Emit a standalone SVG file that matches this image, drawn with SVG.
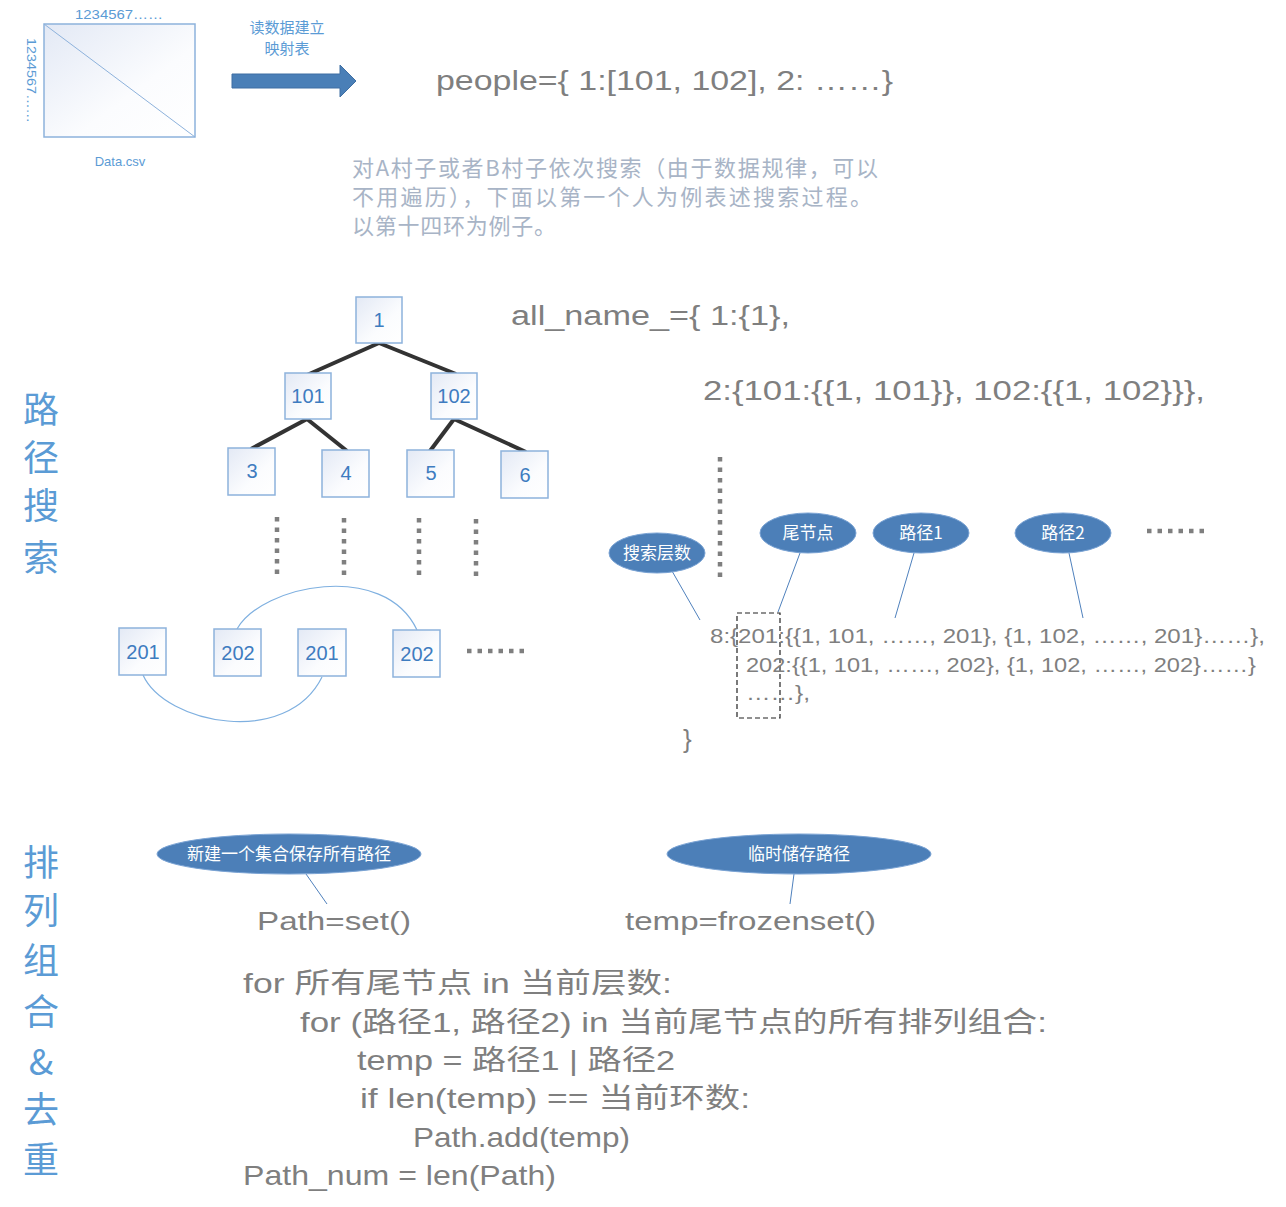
<svg xmlns="http://www.w3.org/2000/svg" width="1286" height="1207" viewBox="0 0 1286 1207">
<defs>
<linearGradient id="bg" x1="0" y1="0" x2="1" y2="1">
<stop offset="0" stop-color="#e3e9f5"/>
<stop offset="0.6" stop-color="#fbfcfe"/>
<stop offset="1" stop-color="#ffffff"/>
</linearGradient>
<style>
.box{fill:url(#bg);stroke:#8db2dc;stroke-width:1.5}
.nt{font-family:"Liberation Sans","Noto Sans",sans-serif;font-size:20px;fill:#3e7cc0;text-anchor:middle}
.blue{font-family:"Liberation Sans","Noto Sans CJK SC",sans-serif;fill:#5b9bd5}
.code{font-family:"Liberation Sans Narrow","Liberation Sans","Noto Sans CJK SC",sans-serif;fill:#7f7f7f}
.para{font-family:"Noto Sans CJK SC",sans-serif;font-size:22px;fill:#a8b4c6}
.ell{fill:#4c7fb8;stroke:#7aa3d4;stroke-width:1}
.et{font-family:"Noto Sans CJK SC",sans-serif;font-size:17px;fill:#ffffff;text-anchor:middle}
.edge{stroke:#333333;stroke-width:4;fill:none}
.dots{stroke:#7f7f7f;stroke-width:4.5;stroke-dasharray:4.5 6;fill:none}
.thin{stroke:#4f81bd;stroke-width:1;fill:none}
.arc{stroke:#7fb0e0;stroke-width:1.2;fill:none}
.side{font-family:"Noto Sans CJK SC",sans-serif;font-size:36px;fill:#5b9bd5;text-anchor:middle}
</style>
</defs>
<rect width="1286" height="1207" fill="#ffffff"/>

<g id="csv">
<rect x="44" y="24" width="151" height="113" class="box"/>
<line x1="44" y1="24" x2="195" y2="137" stroke="#8db2dc" stroke-width="1"/>
<text x="75" y="19" class="blue" font-size="13" textLength="88" lengthAdjust="spacingAndGlyphs">1234567……</text>
<text transform="translate(27,38) rotate(90)" class="blue" font-size="13" textLength="85" lengthAdjust="spacingAndGlyphs">1234567……</text>
<text x="120" y="166" class="blue" font-size="13" text-anchor="middle">Data.csv</text>
</g>

<g id="read-arrow">
<polygon points="232,74 340,74 340,65 356,81 340,97 340,88 232,88" fill="#4a7fb7" stroke="#3f6fa3" stroke-width="1"/>
<text x="287" y="33" class="blue" font-size="15" text-anchor="middle">读数据建立</text>
<text x="287" y="54" class="blue" font-size="15" text-anchor="middle">映射表</text>
</g>

<g id="people">
<text x="436" y="90" class="code" font-size="27" textLength="457" lengthAdjust="spacingAndGlyphs">people={ 1:[101, 102], 2: ……}</text>
</g>

<g id="desc">
<text x="352" y="176" class="para" textLength="526" lengthAdjust="spacing">对A村子或者B村子依次搜索（由于数据规律，可以</text>
<text x="352" y="205" class="para" textLength="520" lengthAdjust="spacing">不用遍历），下面以第一个人为例表述搜索过程。</text>
<text x="352" y="234" class="para" textLength="204" lengthAdjust="spacing">以第十四环为例子。</text>
</g>

<g id="side-labels">
<text class="side"><tspan x="41" y="423">路</tspan><tspan x="41" y="471">径</tspan><tspan x="41" y="519">搜</tspan><tspan x="41" y="571">索</tspan></text>
<text class="side"><tspan x="41" y="876">排</tspan><tspan x="41" y="924">列</tspan><tspan x="41" y="974">组</tspan><tspan x="41" y="1025">合</tspan><tspan x="41" y="1075">&amp;</tspan><tspan x="41" y="1123">去</tspan><tspan x="41" y="1173">重</tspan></text>
</g>

<g id="connectors">
<line x1="379" y1="343" x2="307" y2="375" class="edge"/>
<line x1="379" y1="343" x2="456" y2="374" class="edge"/>
<line x1="307" y1="419" x2="251" y2="449" class="edge"/>
<line x1="307" y1="419" x2="347" y2="451" class="edge"/>
<line x1="454" y1="419" x2="430" y2="451" class="edge"/>
<line x1="454" y1="419" x2="526" y2="452" class="edge"/>
<line x1="277" y1="517" x2="277" y2="575" class="dots"/>
<line x1="344" y1="518" x2="344" y2="576" class="dots"/>
<line x1="419" y1="518" x2="419" y2="576" class="dots"/>
<line x1="476" y1="519" x2="476" y2="577" class="dots"/>
<line x1="467" y1="651" x2="527" y2="651" class="dots"/>
<path d="M237,629 C262,585 384,560 417,630" class="arc"/>
<path d="M143,675 C165,724 287,748 322,677" class="arc"/>
<line x1="720" y1="457" x2="720" y2="582" class="dots"/>
<line x1="1147" y1="531" x2="1207" y2="531" class="dots"/>
<line x1="672" y1="571" x2="700" y2="620" class="thin"/>
<line x1="800" y1="553" x2="778" y2="612" class="thin"/>
<line x1="914" y1="553" x2="895" y2="618" class="thin"/>
<line x1="1069" y1="553" x2="1083" y2="618" class="thin"/>
<line x1="306" y1="874" x2="327" y2="904" class="thin"/>
<line x1="794" y1="874" x2="790" y2="904" class="thin"/>
<rect x="737" y="613" width="43" height="105" fill="none" stroke="#222222" stroke-width="1.2" stroke-dasharray="5 3"/>
</g>

<g id="n1"><rect x="356" y="297" width="46" height="46" class="box"/><text x="379" y="327" class="nt">1</text></g>
<g id="n101"><rect x="285" y="373" width="46" height="46" class="box"/><text x="308" y="403" class="nt">101</text></g>
<g id="n102"><rect x="431" y="373" width="46" height="46" class="box"/><text x="454" y="403" class="nt">102</text></g>
<g id="n3"><rect x="228" y="448" width="47" height="47" class="box"/><text x="252" y="478" class="nt">3</text></g>
<g id="n4"><rect x="322" y="450" width="47" height="47" class="box"/><text x="346" y="480" class="nt">4</text></g>
<g id="n5"><rect x="407" y="450" width="47" height="47" class="box"/><text x="431" y="480" class="nt">5</text></g>
<g id="n6"><rect x="501" y="451" width="47" height="47" class="box"/><text x="525" y="482" class="nt">6</text></g>
<g id="b201a"><rect x="119" y="628" width="47" height="47" class="box"/><text x="143" y="659" class="nt">201</text></g>
<g id="b202a"><rect x="214" y="629" width="47" height="47" class="box"/><text x="238" y="660" class="nt">202</text></g>
<g id="b201b"><rect x="298" y="629" width="48" height="47" class="box"/><text x="322" y="660" class="nt">201</text></g>
<g id="b202b"><rect x="393" y="630" width="47" height="47" class="box"/><text x="417" y="661" class="nt">202</text></g>

<g id="allname">
<text x="511" y="325" class="code" font-size="27" textLength="279" lengthAdjust="spacingAndGlyphs">all_name_={ 1:{1},</text>
<text x="703" y="400" class="code" font-size="27" textLength="502" lengthAdjust="spacingAndGlyphs">2:{101:{{1, 101}}, 102:{{1, 102}}},</text>
<text x="710" y="643" class="code" font-size="21" textLength="555" lengthAdjust="spacingAndGlyphs">8:{201:{{1, 101, ……, 201}, {1, 102, ……, 201}……},</text>
<text x="746" y="672" class="code" font-size="21" textLength="510" lengthAdjust="spacingAndGlyphs">202:{{1, 101, ……, 202}, {1, 102, ……, 202}……}</text>
<text x="746" y="700" class="code" font-size="21" textLength="64" lengthAdjust="spacingAndGlyphs">……},</text>
<text x="683" y="748" class="code" font-size="26">}</text>
</g>

<g id="e-layer"><ellipse cx="657" cy="553" rx="48" ry="20" class="ell"/><text x="657" y="559" class="et">搜索层数</text></g>
<g id="e-tail"><ellipse cx="808" cy="533" rx="48" ry="20" class="ell"/><text x="808" y="539" class="et">尾节点</text></g>
<g id="e-path1"><ellipse cx="921" cy="533" rx="48" ry="20" class="ell"/><text x="921" y="539" class="et">路径1</text></g>
<g id="e-path2"><ellipse cx="1063" cy="533" rx="48" ry="20" class="ell"/><text x="1063" y="539" class="et">路径2</text></g>
<g id="e-set"><ellipse cx="289" cy="854" rx="132" ry="20" class="ell"/><text x="289" y="860" class="et">新建一个集合保存所有路径</text></g>
<g id="e-temp"><ellipse cx="799" cy="854" rx="132" ry="20" class="ell"/><text x="799" y="860" class="et">临时储存路径</text></g>

<g id="code">
<text x="257" y="930" class="code" font-size="26" textLength="154" lengthAdjust="spacingAndGlyphs">Path=set()</text>
<text x="625" y="930" class="code" font-size="26" textLength="251" lengthAdjust="spacingAndGlyphs">temp=frozenset()</text>
<text x="243" y="993" class="code" font-size="28" textLength="429" lengthAdjust="spacingAndGlyphs">for 所有尾节点 in 当前层数:</text>
<text x="300" y="1032" class="code" font-size="28" textLength="747" lengthAdjust="spacingAndGlyphs">for (路径1, 路径2) in 当前尾节点的所有排列组合:</text>
<text x="357" y="1070" class="code" font-size="28" textLength="318" lengthAdjust="spacingAndGlyphs">temp = 路径1 | 路径2</text>
<text x="360" y="1108" class="code" font-size="28" textLength="390" lengthAdjust="spacingAndGlyphs">if len(temp) == 当前环数:</text>
<text x="413" y="1147" class="code" font-size="28" textLength="217" lengthAdjust="spacingAndGlyphs">Path.add(temp)</text>
<text x="243" y="1185" class="code" font-size="28" textLength="313" lengthAdjust="spacingAndGlyphs">Path_num = len(Path)</text>
</g>
</svg>
